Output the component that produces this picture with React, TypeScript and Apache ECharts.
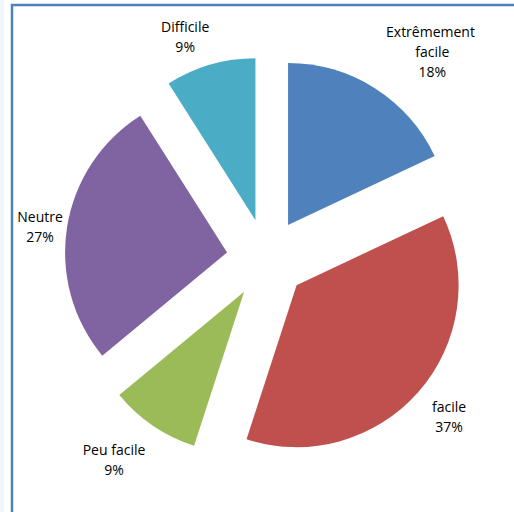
import React, { useEffect, useRef } from "react";
import * as echarts from "echarts";

const categories = ["Extrêmement facile", "facile", "Peu facile", "Neutre", "Difficile"];
const values = [18, 37, 9, 27, 9];
const colors = ["#4F81BD", "#C0504D", "#9BBB59", "#8064A2", "#4BACC6"];

// label placement (layout only): distance from pie centre and angular shift (deg)
const labelDist = [265, 241.5, 251.8, 228.8, 237];
const labelShift = [6.3, -0.5, 3.1, -1, -3.9];

const CX = 266.6;
const CY = 258.7;
const R = 162;

export default function App() {
  const ref = useRef<HTMLDivElement>(null);
  useEffect(() => {
    if (!ref.current) return;
    const chart = echarts.init(ref.current, null, { renderer: "svg" });
    const total = values.reduce((a, b) => a + b, 0);
    const mids: number[] = [];
    let acc = 0;
    values.forEach((v) => {
      mids.push(((acc + v / 2) / total) * 360);
      acc += v;
    });
    chart.setOption({
      animation: false,
      backgroundColor: "#ffffff",
      graphic: [
        { type: "rect", shape: { x: 0, y: 0, width: 4, height: 512 }, style: { fill: "#f2f5f9" } },
        {
          type: "polyline",
          shape: { points: [[12, 512], [12, 5], [514, 5]] },
          style: { stroke: "#4F81BD", lineWidth: 2.5, fill: null },
        },
      ],
      series: [
        {
          type: "pie",
          center: [CX, CY],
          radius: R,
          startAngle: 90,
          clockwise: true,
          selectedMode: "multiple",
          selectedOffset: 40,
          itemStyle: { borderWidth: 0 },
          emphasis: { disabled: true },
          label: { show: false },
          labelLine: { show: false },
          data: categories.map((c, i) => ({
            name: c,
            value: values[i],
            selected: true,
            itemStyle: { color: colors[i] },
          })),
        },
        {
          type: "pie",
          center: [CX, CY],
          radius: R,
          startAngle: 90,
          clockwise: true,
          silent: true,
          z: 3,
          itemStyle: { color: "rgba(0,0,0,0)", borderWidth: 0 },
          emphasis: { disabled: true },
          label: {
            show: true,
            position: "outside",
            fontFamily: "Open Sans",
            fontSize: 14,
            lineHeight: 20,
            color: "#000000",
            align: "center",
            width: 100,
            overflow: "break",
            formatter: (p: any) => `${p.name}\n${Math.round(p.percent)}%`,
          },
          labelLine: { show: false },
          labelLayout: (p: any) => {
            const i = p.dataIndex;
            const a = ((mids[i] + labelShift[i]) * Math.PI) / 180;
            return {
              x: CX + labelDist[i] * Math.sin(a),
              y: CY - labelDist[i] * Math.cos(a),
              align: "center",
              verticalAlign: "middle",
            };
          },
          data: categories.map((c, i) => ({ name: c, value: values[i] })),
        },
      ],
    });
    return () => chart.dispose();
  }, []);
  return (
    <div
      ref={ref}
      style={{ position: "fixed", left: 0, top: 0, width: 514, height: 512 }}
    />
  );
}
